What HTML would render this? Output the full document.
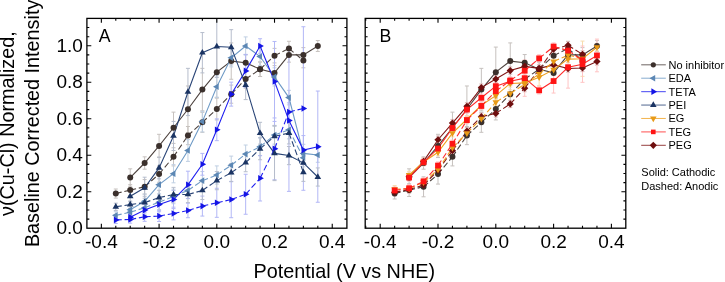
<!DOCTYPE html><html><head><meta charset="utf-8"><style>html,body{margin:0;padding:0;background:#fff;width:725px;height:282px;overflow:hidden}svg{display:block;will-change:transform}</style></head><body><svg width="725" height="282" viewBox="0 0 725 282" font-family="Liberation Sans, sans-serif" fill="#000"><defs><clipPath id="ca"><rect x="86.9" y="18.4" width="260" height="209.8"/></clipPath><clipPath id="cb"><rect x="365.2" y="18.4" width="260.6" height="209.8"/></clipPath></defs><rect width="725" height="282" fill="#fff"/><g clip-path="url(#ca)"><path d="M115.79 189.00V198.08M113.79 189.00h4M113.79 198.08h4" stroke="#c6c1be" stroke-width="1" fill="none"/><path d="M130.22 184.64V195.54M128.22 184.64h4M128.22 195.54h4" stroke="#c6c1be" stroke-width="1" fill="none"/><path d="M144.65 179.55V194.09M142.65 179.55h4M142.65 194.09h4" stroke="#c6c1be" stroke-width="1" fill="none"/><path d="M159.08 165.92V182.28M157.08 165.92h4M157.08 182.28h4" stroke="#c6c1be" stroke-width="1" fill="none"/><path d="M173.51 147.75V165.92M171.51 147.75h4M171.51 165.92h4" stroke="#c6c1be" stroke-width="1" fill="none"/><path d="M187.94 126.49V144.66M185.94 126.49h4M185.94 144.66h4" stroke="#c6c1be" stroke-width="1" fill="none"/><path d="M202.37 112.32V132.31M200.37 112.32h4M200.37 132.31h4" stroke="#c6c1be" stroke-width="1" fill="none"/><path d="M216.80 98.15V119.95M214.80 98.15h4M214.80 119.95h4" stroke="#c6c1be" stroke-width="1" fill="none"/><path d="M231.23 85.07V103.24M229.23 85.07h4M229.23 103.24h4" stroke="#c6c1be" stroke-width="1" fill="none"/><path d="M245.66 69.98V88.15M243.66 69.98h4M243.66 88.15h4" stroke="#c6c1be" stroke-width="1" fill="none"/><path d="M260.09 61.99V76.53M258.09 61.99h4M258.09 76.53h4" stroke="#c6c1be" stroke-width="1" fill="none"/><path d="M274.52 48.36V62.90M272.52 48.36h4M272.52 62.90h4" stroke="#c6c1be" stroke-width="1" fill="none"/><path d="M288.95 41.28V55.81M286.95 41.28h4M286.95 55.81h4" stroke="#c6c1be" stroke-width="1" fill="none"/><path d="M303.38 53.27V67.80M301.38 53.27h4M301.38 67.80h4" stroke="#c6c1be" stroke-width="1" fill="none"/><path d="M130.22 168.83V186.27M128.22 168.83h4M128.22 186.27h4" stroke="#c6c1be" stroke-width="1" fill="none"/><path d="M144.65 156.84V169.19M142.65 156.84h4M142.65 169.19h4" stroke="#c6c1be" stroke-width="1" fill="none"/><path d="M159.08 134.31V157.56M157.08 134.31h4M157.08 157.56h4" stroke="#c6c1be" stroke-width="1" fill="none"/><path d="M173.51 112.14V143.39M171.51 112.14h4M171.51 143.39h4" stroke="#c6c1be" stroke-width="1" fill="none"/><path d="M187.94 85.97V132.49M185.94 85.97h4M185.94 132.49h4" stroke="#c6c1be" stroke-width="1" fill="none"/><path d="M202.37 68.35V110.87M200.37 68.35h4M200.37 110.87h4" stroke="#c6c1be" stroke-width="1" fill="none"/><path d="M216.80 47.09V97.24M214.80 47.09h4M214.80 97.24h4" stroke="#c6c1be" stroke-width="1" fill="none"/><path d="M231.23 42.91V79.25M229.23 42.91h4M229.23 79.25h4" stroke="#c6c1be" stroke-width="1" fill="none"/><path d="M245.66 54.54V70.89M243.66 54.54h4M243.66 70.89h4" stroke="#c6c1be" stroke-width="1" fill="none"/><path d="M260.09 61.99V76.53M258.09 61.99h4M258.09 76.53h4" stroke="#c6c1be" stroke-width="1" fill="none"/><path d="M274.52 65.62V80.16M272.52 65.62h4M272.52 80.16h4" stroke="#c6c1be" stroke-width="1" fill="none"/><path d="M288.95 47.64V62.17M286.95 47.64h4M286.95 62.17h4" stroke="#c6c1be" stroke-width="1" fill="none"/><path d="M303.38 47.64V62.17M301.38 47.64h4M301.38 62.17h4" stroke="#c6c1be" stroke-width="1" fill="none"/><path d="M317.81 40.55V51.45M315.81 40.55h4M315.81 51.45h4" stroke="#c6c1be" stroke-width="1" fill="none"/><path d="M115.79 211.71V218.98M113.79 211.71h4M113.79 218.98h4" stroke="#bfcfe2" stroke-width="1" fill="none"/><path d="M130.22 208.62V215.89M128.22 208.62h4M128.22 215.89h4" stroke="#bfcfe2" stroke-width="1" fill="none"/><path d="M144.65 201.35V214.07M142.65 201.35h4M142.65 214.07h4" stroke="#bfcfe2" stroke-width="1" fill="none"/><path d="M159.08 194.99V209.53M157.08 194.99h4M157.08 209.53h4" stroke="#bfcfe2" stroke-width="1" fill="none"/><path d="M173.51 189.18V203.72M171.51 189.18h4M171.51 203.72h4" stroke="#bfcfe2" stroke-width="1" fill="none"/><path d="M187.94 182.28V198.63M185.94 182.28h4M185.94 198.63h4" stroke="#bfcfe2" stroke-width="1" fill="none"/><path d="M202.37 171.55V189.72M200.37 171.55h4M200.37 189.72h4" stroke="#bfcfe2" stroke-width="1" fill="none"/><path d="M216.80 165.92V184.09M214.80 165.92h4M214.80 184.09h4" stroke="#bfcfe2" stroke-width="1" fill="none"/><path d="M231.23 156.11V174.28M229.23 156.11h4M229.23 174.28h4" stroke="#bfcfe2" stroke-width="1" fill="none"/><path d="M245.66 145.03V163.20M243.66 145.03h4M243.66 163.20h4" stroke="#bfcfe2" stroke-width="1" fill="none"/><path d="M260.09 137.58V155.75M258.09 137.58h4M258.09 155.75h4" stroke="#bfcfe2" stroke-width="1" fill="none"/><path d="M274.52 125.95V144.12M272.52 125.95h4M272.52 144.12h4" stroke="#bfcfe2" stroke-width="1" fill="none"/><path d="M288.95 120.68V138.85M286.95 120.68h4M286.95 138.85h4" stroke="#bfcfe2" stroke-width="1" fill="none"/><path d="M303.38 148.66V166.83M301.38 148.66h4M301.38 166.83h4" stroke="#bfcfe2" stroke-width="1" fill="none"/><path d="M130.22 204.26V215.16M128.22 204.26h4M128.22 215.16h4" stroke="#bfcfe2" stroke-width="1" fill="none"/><path d="M144.65 194.09V208.62M142.65 194.09h4M142.65 208.62h4" stroke="#bfcfe2" stroke-width="1" fill="none"/><path d="M159.08 175.55V193.72M157.08 175.55h4M157.08 193.72h4" stroke="#bfcfe2" stroke-width="1" fill="none"/><path d="M173.51 164.65V182.82M171.51 164.65h4M171.51 182.82h4" stroke="#bfcfe2" stroke-width="1" fill="none"/><path d="M187.94 139.58V161.38M185.94 139.58h4M185.94 161.38h4" stroke="#bfcfe2" stroke-width="1" fill="none"/><path d="M202.37 111.23V131.94M200.37 111.23h4M200.37 131.94h4" stroke="#bfcfe2" stroke-width="1" fill="none"/><path d="M216.80 75.80V97.60M214.80 75.80h4M214.80 97.60h4" stroke="#bfcfe2" stroke-width="1" fill="none"/><path d="M231.23 48.73V66.90M229.23 48.73h4M229.23 66.90h4" stroke="#bfcfe2" stroke-width="1" fill="none"/><path d="M245.66 36.91V55.09M243.66 36.91h4M243.66 55.09h4" stroke="#bfcfe2" stroke-width="1" fill="none"/><path d="M260.09 47.45V65.62M258.09 47.45h4M258.09 65.62h4" stroke="#bfcfe2" stroke-width="1" fill="none"/><path d="M274.52 67.80V85.97M272.52 67.80h4M272.52 85.97h4" stroke="#bfcfe2" stroke-width="1" fill="none"/><path d="M288.95 90.33V104.87M286.95 90.33h4M286.95 104.87h4" stroke="#bfcfe2" stroke-width="1" fill="none"/><path d="M303.38 144.30V162.47M301.38 144.30h4M301.38 162.47h4" stroke="#bfcfe2" stroke-width="1" fill="none"/><path d="M317.81 147.75V162.29M315.81 147.75h4M315.81 162.29h4" stroke="#bfcfe2" stroke-width="1" fill="none"/><path d="M115.79 216.25V223.52M113.79 216.25h4M113.79 223.52h4" stroke="#b2b7f6" stroke-width="1" fill="none"/><path d="M130.22 215.89V223.16M128.22 215.89h4M128.22 223.16h4" stroke="#b2b7f6" stroke-width="1" fill="none"/><path d="M144.65 212.26V221.34M142.65 212.26h4M142.65 221.34h4" stroke="#b2b7f6" stroke-width="1" fill="none"/><path d="M159.08 210.62V221.52M157.08 210.62h4M157.08 221.52h4" stroke="#b2b7f6" stroke-width="1" fill="none"/><path d="M173.51 207.17V219.89M171.51 207.17h4M171.51 219.89h4" stroke="#b2b7f6" stroke-width="1" fill="none"/><path d="M187.94 203.17V217.71M185.94 203.17h4M185.94 217.71h4" stroke="#b2b7f6" stroke-width="1" fill="none"/><path d="M202.37 196.08V216.07M200.37 196.08h4M200.37 216.07h4" stroke="#b2b7f6" stroke-width="1" fill="none"/><path d="M216.80 188.27V217.34M214.80 188.27h4M214.80 217.34h4" stroke="#b2b7f6" stroke-width="1" fill="none"/><path d="M231.23 181.37V217.71M229.23 181.37h4M229.23 217.71h4" stroke="#b2b7f6" stroke-width="1" fill="none"/><path d="M245.66 174.28V214.25M243.66 174.28h4M243.66 214.25h4" stroke="#b2b7f6" stroke-width="1" fill="none"/><path d="M260.09 155.57V200.99M258.09 155.57h4M258.09 200.99h4" stroke="#b2b7f6" stroke-width="1" fill="none"/><path d="M274.52 117.95V179.73M272.52 117.95h4M272.52 179.73h4" stroke="#b2b7f6" stroke-width="1" fill="none"/><path d="M288.95 102.87V121.04M286.95 102.87h4M286.95 121.04h4" stroke="#b2b7f6" stroke-width="1" fill="none"/><path d="M303.38 26.74V190.27M301.38 26.74h4M301.38 190.27h4" stroke="#b2b7f6" stroke-width="1" fill="none"/><path d="M130.22 213.53V220.80M128.22 213.53h4M128.22 220.80h4" stroke="#b2b7f6" stroke-width="1" fill="none"/><path d="M144.65 204.62V215.53M142.65 204.62h4M142.65 215.53h4" stroke="#b2b7f6" stroke-width="1" fill="none"/><path d="M159.08 197.17V211.71M157.08 197.17h4M157.08 211.71h4" stroke="#b2b7f6" stroke-width="1" fill="none"/><path d="M173.51 190.45V208.62M171.51 190.45h4M171.51 208.62h4" stroke="#b2b7f6" stroke-width="1" fill="none"/><path d="M187.94 171.19V198.45M185.94 171.19h4M185.94 198.45h4" stroke="#b2b7f6" stroke-width="1" fill="none"/><path d="M202.37 153.38V175.19M200.37 153.38h4M200.37 175.19h4" stroke="#b2b7f6" stroke-width="1" fill="none"/><path d="M216.80 118.86V140.67M214.80 118.86h4M214.80 140.67h4" stroke="#b2b7f6" stroke-width="1" fill="none"/><path d="M231.23 82.16V106.14M229.23 82.16h4M229.23 106.14h4" stroke="#b2b7f6" stroke-width="1" fill="none"/><path d="M245.66 54.36V87.43M243.66 54.36h4M243.66 87.43h4" stroke="#b2b7f6" stroke-width="1" fill="none"/><path d="M260.09 38.73V53.27M258.09 38.73h4M258.09 53.27h4" stroke="#b2b7f6" stroke-width="1" fill="none"/><path d="M274.52 41.46V121.41M272.52 41.46h4M272.52 121.41h4" stroke="#b2b7f6" stroke-width="1" fill="none"/><path d="M288.95 49.63V191.36M286.95 49.63h4M286.95 191.36h4" stroke="#b2b7f6" stroke-width="1" fill="none"/><path d="M303.38 135.58V164.65M301.38 135.58h4M301.38 164.65h4" stroke="#b2b7f6" stroke-width="1" fill="none"/><path d="M317.81 91.06V202.26M315.81 91.06h4M315.81 202.26h4" stroke="#b2b7f6" stroke-width="1" fill="none"/><path d="M115.79 203.17V210.44M113.79 203.17h4M113.79 210.44h4" stroke="#b6bdcc" stroke-width="1" fill="none"/><path d="M130.22 200.99V208.26M128.22 200.99h4M128.22 208.26h4" stroke="#b6bdcc" stroke-width="1" fill="none"/><path d="M144.65 196.27V208.98M142.65 196.27h4M142.65 208.98h4" stroke="#b6bdcc" stroke-width="1" fill="none"/><path d="M159.08 190.27V204.81M157.08 190.27h4M157.08 204.81h4" stroke="#b6bdcc" stroke-width="1" fill="none"/><path d="M173.51 187.36V201.90M171.51 187.36h4M171.51 201.90h4" stroke="#b6bdcc" stroke-width="1" fill="none"/><path d="M187.94 186.27V202.63M185.94 186.27h4M185.94 202.63h4" stroke="#b6bdcc" stroke-width="1" fill="none"/><path d="M202.37 181.37V199.54M200.37 181.37h4M200.37 199.54h4" stroke="#b6bdcc" stroke-width="1" fill="none"/><path d="M216.80 171.55V189.72M214.80 171.55h4M214.80 189.72h4" stroke="#b6bdcc" stroke-width="1" fill="none"/><path d="M231.23 163.56V181.73M229.23 163.56h4M229.23 181.73h4" stroke="#b6bdcc" stroke-width="1" fill="none"/><path d="M245.66 153.57V171.74M243.66 153.57h4M243.66 171.74h4" stroke="#b6bdcc" stroke-width="1" fill="none"/><path d="M260.09 137.94V159.74M258.09 137.94h4M258.09 159.74h4" stroke="#b6bdcc" stroke-width="1" fill="none"/><path d="M274.52 125.40V147.21M272.52 125.40h4M272.52 147.21h4" stroke="#b6bdcc" stroke-width="1" fill="none"/><path d="M288.95 122.13V143.94M286.95 122.13h4M286.95 143.94h4" stroke="#b6bdcc" stroke-width="1" fill="none"/><path d="M303.38 163.20V181.37M301.38 163.20h4M301.38 181.37h4" stroke="#b6bdcc" stroke-width="1" fill="none"/><path d="M130.22 190.81V201.72M128.22 190.81h4M128.22 201.72h4" stroke="#b6bdcc" stroke-width="1" fill="none"/><path d="M144.65 177.19V198.26M142.65 177.19h4M142.65 198.26h4" stroke="#b6bdcc" stroke-width="1" fill="none"/><path d="M159.08 157.02V178.82M157.08 157.02h4M157.08 178.82h4" stroke="#b6bdcc" stroke-width="1" fill="none"/><path d="M173.51 121.41V150.48M171.51 121.41h4M171.51 150.48h4" stroke="#b6bdcc" stroke-width="1" fill="none"/><path d="M187.94 68.35V115.59M185.94 68.35h4M185.94 115.59h4" stroke="#b6bdcc" stroke-width="1" fill="none"/><path d="M202.37 32.55V72.89M200.37 32.55h4M200.37 72.89h4" stroke="#b6bdcc" stroke-width="1" fill="none"/><path d="M216.80 15.66V77.43M214.80 15.66h4M214.80 77.43h4" stroke="#b6bdcc" stroke-width="1" fill="none"/><path d="M231.23 29.65V64.90M229.23 29.65h4M229.23 64.90h4" stroke="#b6bdcc" stroke-width="1" fill="none"/><path d="M245.66 70.53V99.60M243.66 70.53h4M243.66 99.60h4" stroke="#b6bdcc" stroke-width="1" fill="none"/><path d="M260.09 122.31V144.12M258.09 122.31h4M258.09 144.12h4" stroke="#b6bdcc" stroke-width="1" fill="none"/><path d="M274.52 126.13V180.64M272.52 126.13h4M272.52 180.64h4" stroke="#b6bdcc" stroke-width="1" fill="none"/><path d="M288.95 146.48V164.65M286.95 146.48h4M286.95 164.65h4" stroke="#b6bdcc" stroke-width="1" fill="none"/><path d="M303.38 153.75V171.92M301.38 153.75h4M301.38 171.92h4" stroke="#b6bdcc" stroke-width="1" fill="none"/><path d="M317.81 167.92V186.09M315.81 167.92h4M315.81 186.09h4" stroke="#b6bdcc" stroke-width="1" fill="none"/><path d="M115.79 193.54L130.22 190.09M130.22 190.09L144.65 186.82M144.65 186.82L159.08 174.10M159.08 174.10L173.51 156.84M173.51 156.84L187.94 135.58M187.94 135.58L202.37 122.31M202.37 122.31L216.80 109.05M216.80 109.05L231.23 94.15M231.23 94.15L245.66 79.07M245.66 79.07L260.09 69.26M260.09 69.26L274.52 55.63M274.52 55.63L288.95 48.54M288.95 48.54L303.38 60.54" stroke="#4d423e" stroke-width="1.1" fill="none" stroke-dasharray="6 2.8"/><path d="M130.22 177.55 L144.65 163.01 L159.08 145.94 L173.51 127.76 L187.94 109.23 L202.37 89.61 L216.80 72.16 L231.23 61.08 L245.66 62.72 L260.09 69.26 L274.52 72.89 L288.95 54.90 L303.38 54.90 L317.81 46.00" stroke="#4d423e" stroke-width="1.1" fill="none"/><path d="M115.79 215.34L130.22 212.26M130.22 212.26L144.65 207.71M144.65 207.71L159.08 202.26M159.08 202.26L173.51 196.45M173.51 196.45L187.94 190.45M187.94 190.45L202.37 180.64M202.37 180.64L216.80 175.01M216.80 175.01L231.23 165.20M231.23 165.20L245.66 154.11M245.66 154.11L260.09 146.66M260.09 146.66L274.52 135.03M274.52 135.03L288.95 129.76M288.95 129.76L303.38 157.75" stroke="#6e9ac6" stroke-width="1.1" fill="none" stroke-dasharray="6 2.8"/><path d="M130.22 209.71 L144.65 201.35 L159.08 184.64 L173.51 173.74 L187.94 150.48 L202.37 121.59 L216.80 86.70 L231.23 57.81 L245.66 46.00 L260.09 56.54 L274.52 76.89 L288.95 97.60 L303.38 153.38 L317.81 155.02" stroke="#6e9ac6" stroke-width="1.1" fill="none"/><path d="M115.79 219.89L130.22 219.52M130.22 219.52L144.65 216.80M144.65 216.80L159.08 216.07M159.08 216.07L173.51 213.53M173.51 213.53L187.94 210.44M187.94 210.44L202.37 206.08M202.37 206.08L216.80 202.81M216.80 202.81L231.23 199.54M231.23 199.54L245.66 194.27M245.66 194.27L260.09 178.28M260.09 178.28L274.52 148.84M274.52 148.84L288.95 111.96M288.95 111.96L303.38 108.50" stroke="#1f1ff0" stroke-width="1.1" fill="none" stroke-dasharray="6 2.8"/><path d="M130.22 217.16 L144.65 210.08 L159.08 204.44 L173.51 199.54 L187.94 184.82 L202.37 164.29 L216.80 129.76 L231.23 94.15 L245.66 70.89 L260.09 46.00 L274.52 81.43 L288.95 120.50 L303.38 150.11 L317.81 146.66" stroke="#1f1ff0" stroke-width="1.1" fill="none"/><path d="M115.79 206.80L130.22 204.62M130.22 204.62L144.65 202.63M144.65 202.63L159.08 197.54M159.08 197.54L173.51 194.63M173.51 194.63L187.94 194.45M187.94 194.45L202.37 190.45M202.37 190.45L216.80 180.64M216.80 180.64L231.23 172.64M231.23 172.64L245.66 162.65M245.66 162.65L260.09 148.84M260.09 148.84L274.52 136.30M274.52 136.30L288.95 133.03M288.95 133.03L303.38 172.28" stroke="#2a4577" stroke-width="1.1" fill="none" stroke-dasharray="6 2.8"/><path d="M130.22 196.27 L144.65 187.73 L159.08 167.92 L173.51 135.94 L187.94 91.97 L202.37 52.72 L216.80 46.55 L231.23 47.27 L245.66 85.07 L260.09 133.22 L274.52 153.38 L288.95 155.57 L303.38 162.83 L317.81 177.01" stroke="#2a4577" stroke-width="1.1" fill="none"/><circle cx="115.79" cy="193.54" r="3.0" fill="#3b302c"/><circle cx="130.22" cy="190.09" r="3.0" fill="#3b302c"/><circle cx="144.65" cy="186.82" r="3.0" fill="#3b302c"/><circle cx="159.08" cy="174.10" r="3.0" fill="#3b302c"/><circle cx="173.51" cy="156.84" r="3.0" fill="#3b302c"/><circle cx="187.94" cy="135.58" r="3.0" fill="#3b302c"/><circle cx="202.37" cy="122.31" r="3.0" fill="#3b302c"/><circle cx="216.80" cy="109.05" r="3.0" fill="#3b302c"/><circle cx="231.23" cy="94.15" r="3.0" fill="#3b302c"/><circle cx="245.66" cy="79.07" r="3.0" fill="#3b302c"/><circle cx="260.09" cy="69.26" r="3.0" fill="#3b302c"/><circle cx="274.52" cy="55.63" r="3.0" fill="#3b302c"/><circle cx="288.95" cy="48.54" r="3.0" fill="#3b302c"/><circle cx="303.38" cy="60.54" r="3.0" fill="#3b302c"/><circle cx="130.22" cy="177.55" r="3.0" fill="#3b302c"/><circle cx="144.65" cy="163.01" r="3.0" fill="#3b302c"/><circle cx="159.08" cy="145.94" r="3.0" fill="#3b302c"/><circle cx="173.51" cy="127.76" r="3.0" fill="#3b302c"/><circle cx="187.94" cy="109.23" r="3.0" fill="#3b302c"/><circle cx="202.37" cy="89.61" r="3.0" fill="#3b302c"/><circle cx="216.80" cy="72.16" r="3.0" fill="#3b302c"/><circle cx="231.23" cy="61.08" r="3.0" fill="#3b302c"/><circle cx="245.66" cy="62.72" r="3.0" fill="#3b302c"/><circle cx="260.09" cy="69.26" r="3.0" fill="#3b302c"/><circle cx="274.52" cy="72.89" r="3.0" fill="#3b302c"/><circle cx="288.95" cy="54.90" r="3.0" fill="#3b302c"/><circle cx="303.38" cy="54.90" r="3.0" fill="#3b302c"/><circle cx="317.81" cy="46.00" r="3.0" fill="#3b302c"/><path d="M111.99 215.34L117.69 212.04L117.69 218.64Z" fill="#5c87b4"/><path d="M126.42 212.26L132.12 208.96L132.12 215.56Z" fill="#5c87b4"/><path d="M140.85 207.71L146.55 204.41L146.55 211.01Z" fill="#5c87b4"/><path d="M155.28 202.26L160.98 198.96L160.98 205.56Z" fill="#5c87b4"/><path d="M169.71 196.45L175.41 193.15L175.41 199.75Z" fill="#5c87b4"/><path d="M184.14 190.45L189.84 187.15L189.84 193.75Z" fill="#5c87b4"/><path d="M198.57 180.64L204.27 177.34L204.27 183.94Z" fill="#5c87b4"/><path d="M213.00 175.01L218.70 171.71L218.70 178.31Z" fill="#5c87b4"/><path d="M227.43 165.20L233.13 161.90L233.13 168.50Z" fill="#5c87b4"/><path d="M241.86 154.11L247.56 150.81L247.56 157.41Z" fill="#5c87b4"/><path d="M256.29 146.66L261.99 143.36L261.99 149.96Z" fill="#5c87b4"/><path d="M270.72 135.03L276.42 131.73L276.42 138.33Z" fill="#5c87b4"/><path d="M285.15 129.76L290.85 126.46L290.85 133.06Z" fill="#5c87b4"/><path d="M299.58 157.75L305.28 154.45L305.28 161.05Z" fill="#5c87b4"/><path d="M126.42 209.71L132.12 206.41L132.12 213.01Z" fill="#5c87b4"/><path d="M140.85 201.35L146.55 198.05L146.55 204.65Z" fill="#5c87b4"/><path d="M155.28 184.64L160.98 181.34L160.98 187.94Z" fill="#5c87b4"/><path d="M169.71 173.74L175.41 170.44L175.41 177.04Z" fill="#5c87b4"/><path d="M184.14 150.48L189.84 147.18L189.84 153.78Z" fill="#5c87b4"/><path d="M198.57 121.59L204.27 118.29L204.27 124.89Z" fill="#5c87b4"/><path d="M213.00 86.70L218.70 83.40L218.70 90.00Z" fill="#5c87b4"/><path d="M227.43 57.81L233.13 54.51L233.13 61.11Z" fill="#5c87b4"/><path d="M241.86 46.00L247.56 42.70L247.56 49.30Z" fill="#5c87b4"/><path d="M256.29 56.54L261.99 53.24L261.99 59.84Z" fill="#5c87b4"/><path d="M270.72 76.89L276.42 73.59L276.42 80.19Z" fill="#5c87b4"/><path d="M285.15 97.60L290.85 94.30L290.85 100.90Z" fill="#5c87b4"/><path d="M299.58 153.38L305.28 150.08L305.28 156.68Z" fill="#5c87b4"/><path d="M314.01 155.02L319.71 151.72L319.71 158.32Z" fill="#5c87b4"/><path d="M119.59 219.89L113.89 216.59L113.89 223.19Z" fill="#1414e6"/><path d="M134.02 219.52L128.32 216.22L128.32 222.82Z" fill="#1414e6"/><path d="M148.45 216.80L142.75 213.50L142.75 220.10Z" fill="#1414e6"/><path d="M162.88 216.07L157.18 212.77L157.18 219.37Z" fill="#1414e6"/><path d="M177.31 213.53L171.61 210.23L171.61 216.83Z" fill="#1414e6"/><path d="M191.74 210.44L186.04 207.14L186.04 213.74Z" fill="#1414e6"/><path d="M206.17 206.08L200.47 202.78L200.47 209.38Z" fill="#1414e6"/><path d="M220.60 202.81L214.90 199.51L214.90 206.11Z" fill="#1414e6"/><path d="M235.03 199.54L229.33 196.24L229.33 202.84Z" fill="#1414e6"/><path d="M249.46 194.27L243.76 190.97L243.76 197.57Z" fill="#1414e6"/><path d="M263.89 178.28L258.19 174.98L258.19 181.58Z" fill="#1414e6"/><path d="M278.32 148.84L272.62 145.54L272.62 152.14Z" fill="#1414e6"/><path d="M292.75 111.96L287.05 108.66L287.05 115.26Z" fill="#1414e6"/><path d="M307.18 108.50L301.48 105.20L301.48 111.80Z" fill="#1414e6"/><path d="M134.02 217.16L128.32 213.86L128.32 220.46Z" fill="#1414e6"/><path d="M148.45 210.08L142.75 206.78L142.75 213.38Z" fill="#1414e6"/><path d="M162.88 204.44L157.18 201.14L157.18 207.74Z" fill="#1414e6"/><path d="M177.31 199.54L171.61 196.24L171.61 202.84Z" fill="#1414e6"/><path d="M191.74 184.82L186.04 181.52L186.04 188.12Z" fill="#1414e6"/><path d="M206.17 164.29L200.47 160.99L200.47 167.59Z" fill="#1414e6"/><path d="M220.60 129.76L214.90 126.46L214.90 133.06Z" fill="#1414e6"/><path d="M235.03 94.15L229.33 90.85L229.33 97.45Z" fill="#1414e6"/><path d="M249.46 70.89L243.76 67.59L243.76 74.19Z" fill="#1414e6"/><path d="M263.89 46.00L258.19 42.70L258.19 49.30Z" fill="#1414e6"/><path d="M278.32 81.43L272.62 78.13L272.62 84.73Z" fill="#1414e6"/><path d="M292.75 120.50L287.05 117.20L287.05 123.80Z" fill="#1414e6"/><path d="M307.18 150.11L301.48 146.81L301.48 153.41Z" fill="#1414e6"/><path d="M321.61 146.66L315.91 143.36L315.91 149.96Z" fill="#1414e6"/><path d="M115.79 203.00L119.09 208.70L112.49 208.70Z" fill="#1b3463"/><path d="M130.22 200.82L133.52 206.52L126.92 206.52Z" fill="#1b3463"/><path d="M144.65 198.83L147.95 204.53L141.35 204.53Z" fill="#1b3463"/><path d="M159.08 193.74L162.38 199.44L155.78 199.44Z" fill="#1b3463"/><path d="M173.51 190.83L176.81 196.53L170.21 196.53Z" fill="#1b3463"/><path d="M187.94 190.65L191.24 196.35L184.64 196.35Z" fill="#1b3463"/><path d="M202.37 186.65L205.67 192.35L199.07 192.35Z" fill="#1b3463"/><path d="M216.80 176.84L220.10 182.54L213.50 182.54Z" fill="#1b3463"/><path d="M231.23 168.84L234.53 174.54L227.93 174.54Z" fill="#1b3463"/><path d="M245.66 158.85L248.96 164.55L242.36 164.55Z" fill="#1b3463"/><path d="M260.09 145.04L263.39 150.74L256.79 150.74Z" fill="#1b3463"/><path d="M274.52 132.50L277.82 138.20L271.22 138.20Z" fill="#1b3463"/><path d="M288.95 129.23L292.25 134.93L285.65 134.93Z" fill="#1b3463"/><path d="M303.38 168.48L306.68 174.18L300.08 174.18Z" fill="#1b3463"/><path d="M130.22 192.47L133.52 198.17L126.92 198.17Z" fill="#1b3463"/><path d="M144.65 183.93L147.95 189.63L141.35 189.63Z" fill="#1b3463"/><path d="M159.08 164.12L162.38 169.82L155.78 169.82Z" fill="#1b3463"/><path d="M173.51 132.14L176.81 137.84L170.21 137.84Z" fill="#1b3463"/><path d="M187.94 88.17L191.24 93.87L184.64 93.87Z" fill="#1b3463"/><path d="M202.37 48.92L205.67 54.62L199.07 54.62Z" fill="#1b3463"/><path d="M216.80 42.75L220.10 48.45L213.50 48.45Z" fill="#1b3463"/><path d="M231.23 43.47L234.53 49.17L227.93 49.17Z" fill="#1b3463"/><path d="M245.66 81.27L248.96 86.97L242.36 86.97Z" fill="#1b3463"/><path d="M260.09 129.42L263.39 135.12L256.79 135.12Z" fill="#1b3463"/><path d="M274.52 149.58L277.82 155.28L271.22 155.28Z" fill="#1b3463"/><path d="M288.95 151.77L292.25 157.47L285.65 157.47Z" fill="#1b3463"/><path d="M303.38 159.03L306.68 164.73L300.08 164.73Z" fill="#1b3463"/><path d="M317.81 173.21L321.11 178.91L314.51 178.91Z" fill="#1b3463"/></g><g clip-path="url(#cb)"><path d="M394.65 188.09V198.99M392.65 188.09h4M392.65 198.99h4" stroke="#c6c1be" stroke-width="1" fill="none"/><path d="M409.10 183.73V196.45M407.10 183.73h4M407.10 196.45h4" stroke="#c6c1be" stroke-width="1" fill="none"/><path d="M423.55 176.82V196.81M421.55 176.82h4M421.55 196.81h4" stroke="#c6c1be" stroke-width="1" fill="none"/><path d="M438.00 164.10V184.09M436.00 164.10h4M436.00 184.09h4" stroke="#c6c1be" stroke-width="1" fill="none"/><path d="M452.45 147.75V165.92M450.45 147.75h4M450.45 165.92h4" stroke="#c6c1be" stroke-width="1" fill="none"/><path d="M466.90 126.49V144.66M464.90 126.49h4M464.90 144.66h4" stroke="#c6c1be" stroke-width="1" fill="none"/><path d="M481.35 112.32V132.31M479.35 112.32h4M479.35 132.31h4" stroke="#c6c1be" stroke-width="1" fill="none"/><path d="M495.80 98.15V119.95M493.80 98.15h4M493.80 119.95h4" stroke="#c6c1be" stroke-width="1" fill="none"/><path d="M510.25 85.07V103.24M508.25 85.07h4M508.25 103.24h4" stroke="#c6c1be" stroke-width="1" fill="none"/><path d="M524.70 69.98V88.15M522.70 69.98h4M522.70 88.15h4" stroke="#c6c1be" stroke-width="1" fill="none"/><path d="M539.15 61.99V76.53M537.15 61.99h4M537.15 76.53h4" stroke="#c6c1be" stroke-width="1" fill="none"/><path d="M553.60 48.36V62.90M551.60 48.36h4M551.60 62.90h4" stroke="#c6c1be" stroke-width="1" fill="none"/><path d="M568.05 41.28V55.81M566.05 41.28h4M566.05 55.81h4" stroke="#c6c1be" stroke-width="1" fill="none"/><path d="M582.50 53.27V67.80M580.50 53.27h4M580.50 67.80h4" stroke="#c6c1be" stroke-width="1" fill="none"/><path d="M409.10 168.83V186.27M407.10 168.83h4M407.10 186.27h4" stroke="#c6c1be" stroke-width="1" fill="none"/><path d="M423.55 156.84V169.19M421.55 156.84h4M421.55 169.19h4" stroke="#c6c1be" stroke-width="1" fill="none"/><path d="M438.00 134.31V157.56M436.00 134.31h4M436.00 157.56h4" stroke="#c6c1be" stroke-width="1" fill="none"/><path d="M452.45 112.14V143.39M450.45 112.14h4M450.45 143.39h4" stroke="#c6c1be" stroke-width="1" fill="none"/><path d="M466.90 85.97V132.49M464.90 85.97h4M464.90 132.49h4" stroke="#c6c1be" stroke-width="1" fill="none"/><path d="M481.35 68.35V110.87M479.35 68.35h4M479.35 110.87h4" stroke="#c6c1be" stroke-width="1" fill="none"/><path d="M495.80 47.09V97.24M493.80 47.09h4M493.80 97.24h4" stroke="#c6c1be" stroke-width="1" fill="none"/><path d="M510.25 42.91V79.25M508.25 42.91h4M508.25 79.25h4" stroke="#c6c1be" stroke-width="1" fill="none"/><path d="M524.70 54.54V70.89M522.70 54.54h4M522.70 70.89h4" stroke="#c6c1be" stroke-width="1" fill="none"/><path d="M539.15 61.99V76.53M537.15 61.99h4M537.15 76.53h4" stroke="#c6c1be" stroke-width="1" fill="none"/><path d="M553.60 65.62V80.16M551.60 65.62h4M551.60 80.16h4" stroke="#c6c1be" stroke-width="1" fill="none"/><path d="M568.05 47.64V62.17M566.05 47.64h4M566.05 62.17h4" stroke="#c6c1be" stroke-width="1" fill="none"/><path d="M582.50 47.64V62.17M580.50 47.64h4M580.50 62.17h4" stroke="#c6c1be" stroke-width="1" fill="none"/><path d="M596.95 40.55V51.45M594.95 40.55h4M594.95 51.45h4" stroke="#c6c1be" stroke-width="1" fill="none"/><path d="M394.65 188.63V195.90M392.65 188.63h4M392.65 195.90h4" stroke="#dcb6b6" stroke-width="1" fill="none"/><path d="M409.10 185.91V193.18M407.10 185.91h4M407.10 193.18h4" stroke="#dcb6b6" stroke-width="1" fill="none"/><path d="M423.55 181.37V188.63M421.55 181.37h4M421.55 188.63h4" stroke="#dcb6b6" stroke-width="1" fill="none"/><path d="M438.00 166.83V174.10M436.00 166.83h4M436.00 174.10h4" stroke="#dcb6b6" stroke-width="1" fill="none"/><path d="M452.45 147.03V154.29M450.45 147.03h4M450.45 154.29h4" stroke="#dcb6b6" stroke-width="1" fill="none"/><path d="M466.90 127.58V134.85M464.90 127.58h4M464.90 134.85h4" stroke="#dcb6b6" stroke-width="1" fill="none"/><path d="M481.35 113.05V120.32M479.35 113.05h4M479.35 120.32h4" stroke="#dcb6b6" stroke-width="1" fill="none"/><path d="M495.80 109.78V117.04M493.80 109.78h4M493.80 117.04h4" stroke="#dcb6b6" stroke-width="1" fill="none"/><path d="M510.25 100.33V107.60M508.25 100.33h4M508.25 107.60h4" stroke="#dcb6b6" stroke-width="1" fill="none"/><path d="M524.70 84.52V91.79M522.70 84.52h4M522.70 91.79h4" stroke="#dcb6b6" stroke-width="1" fill="none"/><path d="M539.15 65.99V73.26M537.15 65.99h4M537.15 73.26h4" stroke="#dcb6b6" stroke-width="1" fill="none"/><path d="M553.60 45.64V52.90M551.60 45.64h4M551.60 52.90h4" stroke="#dcb6b6" stroke-width="1" fill="none"/><path d="M568.05 41.64V48.91M566.05 41.64h4M566.05 48.91h4" stroke="#dcb6b6" stroke-width="1" fill="none"/><path d="M582.50 50.72V57.99M580.50 50.72h4M580.50 57.99h4" stroke="#dcb6b6" stroke-width="1" fill="none"/><path d="M409.10 173.19V180.46M407.10 173.19h4M407.10 180.46h4" stroke="#dcb6b6" stroke-width="1" fill="none"/><path d="M423.55 157.75V165.01M421.55 157.75h4M421.55 165.01h4" stroke="#dcb6b6" stroke-width="1" fill="none"/><path d="M438.00 136.12V143.39M436.00 136.12h4M436.00 143.39h4" stroke="#dcb6b6" stroke-width="1" fill="none"/><path d="M452.45 119.41V126.67M450.45 119.41h4M450.45 126.67h4" stroke="#dcb6b6" stroke-width="1" fill="none"/><path d="M466.90 102.69V109.96M464.90 102.69h4M464.90 109.96h4" stroke="#dcb6b6" stroke-width="1" fill="none"/><path d="M481.35 83.98V91.24M479.35 83.98h4M479.35 91.24h4" stroke="#dcb6b6" stroke-width="1" fill="none"/><path d="M495.80 75.44V82.70M493.80 75.44h4M493.80 82.70h4" stroke="#dcb6b6" stroke-width="1" fill="none"/><path d="M510.25 66.90V74.16M508.25 66.90h4M508.25 74.16h4" stroke="#dcb6b6" stroke-width="1" fill="none"/><path d="M524.70 62.72V69.98M522.70 62.72h4M522.70 69.98h4" stroke="#dcb6b6" stroke-width="1" fill="none"/><path d="M539.15 64.72V71.98M537.15 64.72h4M537.15 71.98h4" stroke="#dcb6b6" stroke-width="1" fill="none"/><path d="M553.60 61.26V68.53M551.60 61.26h4M551.60 68.53h4" stroke="#dcb6b6" stroke-width="1" fill="none"/><path d="M568.05 64.90V72.16M566.05 64.90h4M566.05 72.16h4" stroke="#dcb6b6" stroke-width="1" fill="none"/><path d="M582.50 64.35V71.62M580.50 64.35h4M580.50 71.62h4" stroke="#dcb6b6" stroke-width="1" fill="none"/><path d="M596.95 57.81V65.08M594.95 57.81h4M594.95 65.08h4" stroke="#dcb6b6" stroke-width="1" fill="none"/><path d="M394.65 185.55V192.81M392.65 185.55h4M392.65 192.81h4" stroke="#f7dcae" stroke-width="1" fill="none"/><path d="M409.10 185.00V192.27M407.10 185.00h4M407.10 192.27h4" stroke="#f7dcae" stroke-width="1" fill="none"/><path d="M423.55 178.64V185.91M421.55 178.64h4M421.55 185.91h4" stroke="#f7dcae" stroke-width="1" fill="none"/><path d="M438.00 165.92V173.19M436.00 165.92h4M436.00 173.19h4" stroke="#f7dcae" stroke-width="1" fill="none"/><path d="M452.45 144.12V151.39M450.45 144.12h4M450.45 151.39h4" stroke="#f7dcae" stroke-width="1" fill="none"/><path d="M466.90 129.58V136.85M464.90 129.58h4M464.90 136.85h4" stroke="#f7dcae" stroke-width="1" fill="none"/><path d="M481.35 115.05V122.31M479.35 115.05h4M479.35 122.31h4" stroke="#f7dcae" stroke-width="1" fill="none"/><path d="M495.80 98.51V105.78M493.80 98.51h4M493.80 105.78h4" stroke="#f7dcae" stroke-width="1" fill="none"/><path d="M510.25 89.79V97.06M508.25 89.79h4M508.25 97.06h4" stroke="#f7dcae" stroke-width="1" fill="none"/><path d="M524.70 80.52V87.79M522.70 80.52h4M522.70 87.79h4" stroke="#f7dcae" stroke-width="1" fill="none"/><path d="M539.15 70.35V77.62M537.15 70.35h4M537.15 77.62h4" stroke="#f7dcae" stroke-width="1" fill="none"/><path d="M553.60 57.81V65.08M551.60 57.81h4M551.60 65.08h4" stroke="#f7dcae" stroke-width="1" fill="none"/><path d="M568.05 51.45V58.72M566.05 51.45h4M566.05 58.72h4" stroke="#f7dcae" stroke-width="1" fill="none"/><path d="M582.50 55.08V62.35M580.50 55.08h4M580.50 62.35h4" stroke="#f7dcae" stroke-width="1" fill="none"/><path d="M409.10 171.37V178.64M407.10 171.37h4M407.10 178.64h4" stroke="#f7dcae" stroke-width="1" fill="none"/><path d="M423.55 158.29V165.56M421.55 158.29h4M421.55 165.56h4" stroke="#f7dcae" stroke-width="1" fill="none"/><path d="M438.00 148.66V155.93M436.00 148.66h4M436.00 155.93h4" stroke="#f7dcae" stroke-width="1" fill="none"/><path d="M452.45 129.58V136.85M450.45 129.58h4M450.45 136.85h4" stroke="#f7dcae" stroke-width="1" fill="none"/><path d="M466.90 115.59V122.86M464.90 115.59h4M464.90 122.86h4" stroke="#f7dcae" stroke-width="1" fill="none"/><path d="M481.35 101.60V108.87M479.35 101.60h4M479.35 108.87h4" stroke="#f7dcae" stroke-width="1" fill="none"/><path d="M495.80 91.97V99.24M493.80 91.97h4M493.80 99.24h4" stroke="#f7dcae" stroke-width="1" fill="none"/><path d="M510.25 79.80V87.06M508.25 79.80h4M508.25 87.06h4" stroke="#f7dcae" stroke-width="1" fill="none"/><path d="M524.70 79.25V86.52M522.70 79.25h4M522.70 86.52h4" stroke="#f7dcae" stroke-width="1" fill="none"/><path d="M539.15 69.08V85.43M537.15 69.08h4M537.15 85.43h4" stroke="#f7dcae" stroke-width="1" fill="none"/><path d="M553.60 65.99V73.26M551.60 65.99h4M551.60 73.26h4" stroke="#f7dcae" stroke-width="1" fill="none"/><path d="M568.05 55.45V62.72M566.05 55.45h4M566.05 62.72h4" stroke="#f7dcae" stroke-width="1" fill="none"/><path d="M582.50 41.09V76.34M580.50 41.09h4M580.50 76.34h4" stroke="#f7dcae" stroke-width="1" fill="none"/><path d="M596.95 43.64V50.91M594.95 43.64h4M594.95 50.91h4" stroke="#f7dcae" stroke-width="1" fill="none"/><path d="M394.65 186.82V194.09M392.65 186.82h4M392.65 194.09h4" stroke="#ffc4c4" stroke-width="1" fill="none"/><path d="M409.10 184.64V191.91M407.10 184.64h4M407.10 191.91h4" stroke="#ffc4c4" stroke-width="1" fill="none"/><path d="M423.55 177.73V185.00M421.55 177.73h4M421.55 185.00h4" stroke="#ffc4c4" stroke-width="1" fill="none"/><path d="M438.00 161.92V169.19M436.00 161.92h4M436.00 169.19h4" stroke="#ffc4c4" stroke-width="1" fill="none"/><path d="M452.45 140.12V147.39M450.45 140.12h4M450.45 147.39h4" stroke="#ffc4c4" stroke-width="1" fill="none"/><path d="M466.90 116.50V123.77M464.90 116.50h4M464.90 123.77h4" stroke="#ffc4c4" stroke-width="1" fill="none"/><path d="M481.35 102.33V109.59M479.35 102.33h4M479.35 109.59h4" stroke="#ffc4c4" stroke-width="1" fill="none"/><path d="M495.80 87.61V94.88M493.80 87.61h4M493.80 94.88h4" stroke="#ffc4c4" stroke-width="1" fill="none"/><path d="M510.25 76.89V84.16M508.25 76.89h4M508.25 84.16h4" stroke="#ffc4c4" stroke-width="1" fill="none"/><path d="M524.70 67.08V74.35M522.70 67.08h4M522.70 74.35h4" stroke="#ffc4c4" stroke-width="1" fill="none"/><path d="M539.15 54.72V61.99M537.15 54.72h4M537.15 61.99h4" stroke="#ffc4c4" stroke-width="1" fill="none"/><path d="M553.60 42.91V50.18M551.60 42.91h4M551.60 50.18h4" stroke="#ffc4c4" stroke-width="1" fill="none"/><path d="M568.05 46.91V54.18M566.05 46.91h4M566.05 54.18h4" stroke="#ffc4c4" stroke-width="1" fill="none"/><path d="M582.50 56.54V63.81M580.50 56.54h4M580.50 63.81h4" stroke="#ffc4c4" stroke-width="1" fill="none"/><path d="M409.10 173.92V181.18M407.10 173.92h4M407.10 181.18h4" stroke="#ffc4c4" stroke-width="1" fill="none"/><path d="M423.55 158.65V165.92M421.55 158.65h4M421.55 165.92h4" stroke="#ffc4c4" stroke-width="1" fill="none"/><path d="M438.00 144.84V152.11M436.00 144.84h4M436.00 152.11h4" stroke="#ffc4c4" stroke-width="1" fill="none"/><path d="M452.45 124.31V131.58M450.45 124.31h4M450.45 131.58h4" stroke="#ffc4c4" stroke-width="1" fill="none"/><path d="M466.90 105.96V113.23M464.90 105.96h4M464.90 113.23h4" stroke="#ffc4c4" stroke-width="1" fill="none"/><path d="M481.35 94.15V101.42M479.35 94.15h4M479.35 101.42h4" stroke="#ffc4c4" stroke-width="1" fill="none"/><path d="M495.80 82.52V89.79M493.80 82.52h4M493.80 89.79h4" stroke="#ffc4c4" stroke-width="1" fill="none"/><path d="M510.25 77.62V84.88M508.25 77.62h4M508.25 84.88h4" stroke="#ffc4c4" stroke-width="1" fill="none"/><path d="M524.70 59.99V96.33M522.70 59.99h4M522.70 96.33h4" stroke="#ffc4c4" stroke-width="1" fill="none"/><path d="M539.15 86.70V93.97M537.15 86.70h4M537.15 93.97h4" stroke="#ffc4c4" stroke-width="1" fill="none"/><path d="M553.60 69.08V93.06M551.60 69.08h4M551.60 93.06h4" stroke="#ffc4c4" stroke-width="1" fill="none"/><path d="M568.05 46.36V88.15M566.05 46.36h4M566.05 88.15h4" stroke="#ffc4c4" stroke-width="1" fill="none"/><path d="M582.50 46.00V82.34M580.50 46.00h4M580.50 82.34h4" stroke="#ffc4c4" stroke-width="1" fill="none"/><path d="M596.95 39.10V71.80M594.95 39.10h4M594.95 71.80h4" stroke="#ffc4c4" stroke-width="1" fill="none"/><path d="M394.65 193.54L409.10 190.09M409.10 190.09L423.55 186.82M423.55 186.82L438.00 174.10M438.00 174.10L452.45 156.84M452.45 156.84L466.90 135.58M466.90 135.58L481.35 122.31M481.35 122.31L495.80 109.05M495.80 109.05L510.25 94.15M510.25 94.15L524.70 79.07M524.70 79.07L539.15 69.26M539.15 69.26L553.60 55.63M553.60 55.63L568.05 48.54M568.05 48.54L582.50 60.54" stroke="#4d423e" stroke-width="1.1" fill="none" stroke-dasharray="6 2.8"/><path d="M409.10 177.55 L423.55 163.01 L438.00 145.94 L452.45 127.76 L466.90 109.23 L481.35 89.61 L495.80 72.16 L510.25 61.08 L524.70 62.72 L539.15 69.26 L553.60 72.89 L568.05 54.90 L582.50 54.90 L596.95 46.00" stroke="#4d423e" stroke-width="1.1" fill="none"/><path d="M394.65 192.27L409.10 189.54M409.10 189.54L423.55 185.00M423.55 185.00L438.00 170.46M438.00 170.46L452.45 150.66M452.45 150.66L466.90 131.22M466.90 131.22L481.35 116.68M481.35 116.68L495.80 113.41M495.80 113.41L510.25 103.96M510.25 103.96L524.70 88.15M524.70 88.15L539.15 69.62M539.15 69.62L553.60 49.27M553.60 49.27L568.05 45.27M568.05 45.27L582.50 54.36" stroke="#801515" stroke-width="1.1" fill="none" stroke-dasharray="6 2.8"/><path d="M409.10 176.82 L423.55 161.38 L438.00 139.76 L452.45 123.04 L466.90 106.32 L481.35 87.61 L495.80 79.07 L510.25 70.53 L524.70 66.35 L539.15 68.35 L553.60 64.90 L568.05 68.53 L582.50 67.99 L596.95 61.44" stroke="#801515" stroke-width="1.1" fill="none"/><path d="M394.65 189.18L409.10 188.63M409.10 188.63L423.55 182.27M423.55 182.27L438.00 169.56M438.00 169.56L452.45 147.75M452.45 147.75L466.90 133.22M466.90 133.22L481.35 118.68M481.35 118.68L495.80 102.15M495.80 102.15L510.25 93.42M510.25 93.42L524.70 84.16M524.70 84.16L539.15 73.98M539.15 73.98L553.60 61.44M553.60 61.44L568.05 55.09M568.05 55.09L582.50 58.72" stroke="#ef9f1e" stroke-width="1.1" fill="none" stroke-dasharray="6 2.8"/><path d="M409.10 175.01 L423.55 161.92 L438.00 152.29 L452.45 133.22 L466.90 119.23 L481.35 105.23 L495.80 95.60 L510.25 83.43 L524.70 82.89 L539.15 77.25 L553.60 69.62 L568.05 59.08 L582.50 58.72 L596.95 47.27" stroke="#ef9f1e" stroke-width="1.1" fill="none"/><path d="M394.65 190.45L409.10 188.27M409.10 188.27L423.55 181.37M423.55 181.37L438.00 165.56M438.00 165.56L452.45 143.75M452.45 143.75L466.90 120.13M466.90 120.13L481.35 105.96M481.35 105.96L495.80 91.24M495.80 91.24L510.25 80.52M510.25 80.52L524.70 70.71M524.70 70.71L539.15 58.36M539.15 58.36L553.60 46.55M553.60 46.55L568.05 50.54M568.05 50.54L582.50 60.17" stroke="#ff2a2a" stroke-width="1.1" fill="none" stroke-dasharray="6 2.8"/><path d="M409.10 177.55 L423.55 162.29 L438.00 148.48 L452.45 127.95 L466.90 109.59 L481.35 97.78 L495.80 86.16 L510.25 81.25 L524.70 78.16 L539.15 90.33 L553.60 81.07 L568.05 67.26 L582.50 64.17 L596.95 55.45" stroke="#ff2a2a" stroke-width="1.1" fill="none"/><circle cx="394.65" cy="193.54" r="3.0" fill="#3b302c"/><circle cx="409.10" cy="190.09" r="3.0" fill="#3b302c"/><circle cx="423.55" cy="186.82" r="3.0" fill="#3b302c"/><circle cx="438.00" cy="174.10" r="3.0" fill="#3b302c"/><circle cx="452.45" cy="156.84" r="3.0" fill="#3b302c"/><circle cx="466.90" cy="135.58" r="3.0" fill="#3b302c"/><circle cx="481.35" cy="122.31" r="3.0" fill="#3b302c"/><circle cx="495.80" cy="109.05" r="3.0" fill="#3b302c"/><circle cx="510.25" cy="94.15" r="3.0" fill="#3b302c"/><circle cx="524.70" cy="79.07" r="3.0" fill="#3b302c"/><circle cx="539.15" cy="69.26" r="3.0" fill="#3b302c"/><circle cx="553.60" cy="55.63" r="3.0" fill="#3b302c"/><circle cx="568.05" cy="48.54" r="3.0" fill="#3b302c"/><circle cx="582.50" cy="60.54" r="3.0" fill="#3b302c"/><circle cx="409.10" cy="177.55" r="3.0" fill="#3b302c"/><circle cx="423.55" cy="163.01" r="3.0" fill="#3b302c"/><circle cx="438.00" cy="145.94" r="3.0" fill="#3b302c"/><circle cx="452.45" cy="127.76" r="3.0" fill="#3b302c"/><circle cx="466.90" cy="109.23" r="3.0" fill="#3b302c"/><circle cx="481.35" cy="89.61" r="3.0" fill="#3b302c"/><circle cx="495.80" cy="72.16" r="3.0" fill="#3b302c"/><circle cx="510.25" cy="61.08" r="3.0" fill="#3b302c"/><circle cx="524.70" cy="62.72" r="3.0" fill="#3b302c"/><circle cx="539.15" cy="69.26" r="3.0" fill="#3b302c"/><circle cx="553.60" cy="72.89" r="3.0" fill="#3b302c"/><circle cx="568.05" cy="54.90" r="3.0" fill="#3b302c"/><circle cx="582.50" cy="54.90" r="3.0" fill="#3b302c"/><circle cx="596.95" cy="46.00" r="3.0" fill="#3b302c"/><path d="M394.65 188.67L398.25 192.27L394.65 195.87L391.05 192.27Z" fill="#6e0e0e"/><path d="M409.10 185.94L412.70 189.54L409.10 193.14L405.50 189.54Z" fill="#6e0e0e"/><path d="M423.55 181.40L427.15 185.00L423.55 188.60L419.95 185.00Z" fill="#6e0e0e"/><path d="M438.00 166.86L441.60 170.46L438.00 174.06L434.40 170.46Z" fill="#6e0e0e"/><path d="M452.45 147.06L456.05 150.66L452.45 154.26L448.85 150.66Z" fill="#6e0e0e"/><path d="M466.90 127.62L470.50 131.22L466.90 134.82L463.30 131.22Z" fill="#6e0e0e"/><path d="M481.35 113.08L484.95 116.68L481.35 120.28L477.75 116.68Z" fill="#6e0e0e"/><path d="M495.80 109.81L499.40 113.41L495.80 117.01L492.20 113.41Z" fill="#6e0e0e"/><path d="M510.25 100.36L513.85 103.96L510.25 107.56L506.65 103.96Z" fill="#6e0e0e"/><path d="M524.70 84.55L528.30 88.15L524.70 91.75L521.10 88.15Z" fill="#6e0e0e"/><path d="M539.15 66.02L542.75 69.62L539.15 73.22L535.55 69.62Z" fill="#6e0e0e"/><path d="M553.60 45.67L557.20 49.27L553.60 52.87L550.00 49.27Z" fill="#6e0e0e"/><path d="M568.05 41.67L571.65 45.27L568.05 48.87L564.45 45.27Z" fill="#6e0e0e"/><path d="M582.50 50.76L586.10 54.36L582.50 57.96L578.90 54.36Z" fill="#6e0e0e"/><path d="M409.10 173.22L412.70 176.82L409.10 180.42L405.50 176.82Z" fill="#6e0e0e"/><path d="M423.55 157.78L427.15 161.38L423.55 164.98L419.95 161.38Z" fill="#6e0e0e"/><path d="M438.00 136.16L441.60 139.76L438.00 143.36L434.40 139.76Z" fill="#6e0e0e"/><path d="M452.45 119.44L456.05 123.04L452.45 126.64L448.85 123.04Z" fill="#6e0e0e"/><path d="M466.90 102.72L470.50 106.32L466.90 109.92L463.30 106.32Z" fill="#6e0e0e"/><path d="M481.35 84.01L484.95 87.61L481.35 91.21L477.75 87.61Z" fill="#6e0e0e"/><path d="M495.80 75.47L499.40 79.07L495.80 82.67L492.20 79.07Z" fill="#6e0e0e"/><path d="M510.25 66.93L513.85 70.53L510.25 74.13L506.65 70.53Z" fill="#6e0e0e"/><path d="M524.70 62.75L528.30 66.35L524.70 69.95L521.10 66.35Z" fill="#6e0e0e"/><path d="M539.15 64.75L542.75 68.35L539.15 71.95L535.55 68.35Z" fill="#6e0e0e"/><path d="M553.60 61.30L557.20 64.90L553.60 68.50L550.00 64.90Z" fill="#6e0e0e"/><path d="M568.05 64.93L571.65 68.53L568.05 72.13L564.45 68.53Z" fill="#6e0e0e"/><path d="M582.50 64.39L586.10 67.99L582.50 71.59L578.90 67.99Z" fill="#6e0e0e"/><path d="M596.95 57.84L600.55 61.44L596.95 65.04L593.35 61.44Z" fill="#6e0e0e"/><path d="M394.65 192.98L397.95 187.28L391.35 187.28Z" fill="#e89a17"/><path d="M409.10 192.43L412.40 186.73L405.80 186.73Z" fill="#e89a17"/><path d="M423.55 186.07L426.85 180.37L420.25 180.37Z" fill="#e89a17"/><path d="M438.00 173.36L441.30 167.66L434.70 167.66Z" fill="#e89a17"/><path d="M452.45 151.55L455.75 145.85L449.15 145.85Z" fill="#e89a17"/><path d="M466.90 137.02L470.20 131.32L463.60 131.32Z" fill="#e89a17"/><path d="M481.35 122.48L484.65 116.78L478.05 116.78Z" fill="#e89a17"/><path d="M495.80 105.95L499.10 100.25L492.50 100.25Z" fill="#e89a17"/><path d="M510.25 97.22L513.55 91.52L506.95 91.52Z" fill="#e89a17"/><path d="M524.70 87.96L528.00 82.26L521.40 82.26Z" fill="#e89a17"/><path d="M539.15 77.78L542.45 72.08L535.85 72.08Z" fill="#e89a17"/><path d="M553.60 65.24L556.90 59.54L550.30 59.54Z" fill="#e89a17"/><path d="M568.05 58.89L571.35 53.19L564.75 53.19Z" fill="#e89a17"/><path d="M582.50 62.52L585.80 56.82L579.20 56.82Z" fill="#e89a17"/><path d="M409.10 178.81L412.40 173.11L405.80 173.11Z" fill="#e89a17"/><path d="M423.55 165.72L426.85 160.02L420.25 160.02Z" fill="#e89a17"/><path d="M438.00 156.09L441.30 150.39L434.70 150.39Z" fill="#e89a17"/><path d="M452.45 137.02L455.75 131.32L449.15 131.32Z" fill="#e89a17"/><path d="M466.90 123.03L470.20 117.33L463.60 117.33Z" fill="#e89a17"/><path d="M481.35 109.03L484.65 103.33L478.05 103.33Z" fill="#e89a17"/><path d="M495.80 99.40L499.10 93.70L492.50 93.70Z" fill="#e89a17"/><path d="M510.25 87.23L513.55 81.53L506.95 81.53Z" fill="#e89a17"/><path d="M524.70 86.69L528.00 80.99L521.40 80.99Z" fill="#e89a17"/><path d="M539.15 81.05L542.45 75.35L535.85 75.35Z" fill="#e89a17"/><path d="M553.60 73.42L556.90 67.72L550.30 67.72Z" fill="#e89a17"/><path d="M568.05 62.88L571.35 57.18L564.75 57.18Z" fill="#e89a17"/><path d="M582.50 62.52L585.80 56.82L579.20 56.82Z" fill="#e89a17"/><path d="M596.95 51.07L600.25 45.37L593.65 45.37Z" fill="#e89a17"/><rect x="391.75" y="187.55" width="5.8" height="5.8" fill="#ff1414"/><rect x="406.20" y="185.37" width="5.8" height="5.8" fill="#ff1414"/><rect x="420.65" y="178.47" width="5.8" height="5.8" fill="#ff1414"/><rect x="435.10" y="162.66" width="5.8" height="5.8" fill="#ff1414"/><rect x="449.55" y="140.85" width="5.8" height="5.8" fill="#ff1414"/><rect x="464.00" y="117.23" width="5.8" height="5.8" fill="#ff1414"/><rect x="478.45" y="103.06" width="5.8" height="5.8" fill="#ff1414"/><rect x="492.90" y="88.34" width="5.8" height="5.8" fill="#ff1414"/><rect x="507.35" y="77.62" width="5.8" height="5.8" fill="#ff1414"/><rect x="521.80" y="67.81" width="5.8" height="5.8" fill="#ff1414"/><rect x="536.25" y="55.46" width="5.8" height="5.8" fill="#ff1414"/><rect x="550.70" y="43.65" width="5.8" height="5.8" fill="#ff1414"/><rect x="565.15" y="47.64" width="5.8" height="5.8" fill="#ff1414"/><rect x="579.60" y="57.27" width="5.8" height="5.8" fill="#ff1414"/><rect x="406.20" y="174.65" width="5.8" height="5.8" fill="#ff1414"/><rect x="420.65" y="159.39" width="5.8" height="5.8" fill="#ff1414"/><rect x="435.10" y="145.58" width="5.8" height="5.8" fill="#ff1414"/><rect x="449.55" y="125.05" width="5.8" height="5.8" fill="#ff1414"/><rect x="464.00" y="106.69" width="5.8" height="5.8" fill="#ff1414"/><rect x="478.45" y="94.88" width="5.8" height="5.8" fill="#ff1414"/><rect x="492.90" y="83.26" width="5.8" height="5.8" fill="#ff1414"/><rect x="507.35" y="78.35" width="5.8" height="5.8" fill="#ff1414"/><rect x="521.80" y="75.26" width="5.8" height="5.8" fill="#ff1414"/><rect x="536.25" y="87.43" width="5.8" height="5.8" fill="#ff1414"/><rect x="550.70" y="78.17" width="5.8" height="5.8" fill="#ff1414"/><rect x="565.15" y="64.36" width="5.8" height="5.8" fill="#ff1414"/><rect x="579.60" y="61.27" width="5.8" height="5.8" fill="#ff1414"/><rect x="594.05" y="52.55" width="5.8" height="5.8" fill="#ff1414"/></g><rect x="86.9" y="18.4" width="260.0" height="209.79999999999998" fill="none" stroke="#000" stroke-width="1.3"/><path d="M101.36 228.2v-4.4M101.36 18.4v4.4M115.79 228.2v-2.4M115.79 18.4v2.4M130.22 228.2v-2.4M130.22 18.4v2.4M144.65 228.2v-2.4M144.65 18.4v2.4M159.08 228.2v-4.4M159.08 18.4v4.4M173.51 228.2v-2.4M173.51 18.4v2.4M187.94 228.2v-2.4M187.94 18.4v2.4M202.37 228.2v-2.4M202.37 18.4v2.4M216.80 228.2v-4.4M216.80 18.4v4.4M231.23 228.2v-2.4M231.23 18.4v2.4M245.66 228.2v-2.4M245.66 18.4v2.4M260.09 228.2v-2.4M260.09 18.4v2.4M274.52 228.2v-4.4M274.52 18.4v4.4M288.95 228.2v-2.4M288.95 18.4v2.4M303.38 228.2v-2.4M303.38 18.4v2.4M317.81 228.2v-2.4M317.81 18.4v2.4M332.24 228.2v-4.4M332.24 18.4v4.4M86.9 219.08h2.4M346.9 219.08h-2.4M86.9 209.96h2.4M346.9 209.96h-2.4M86.9 200.84h2.4M346.9 200.84h-2.4M86.9 191.72h4.4M346.9 191.72h-4.4M86.9 182.60h2.4M346.9 182.60h-2.4M86.9 173.48h2.4M346.9 173.48h-2.4M86.9 164.36h2.4M346.9 164.36h-2.4M86.9 155.24h4.4M346.9 155.24h-4.4M86.9 146.12h2.4M346.9 146.12h-2.4M86.9 137.00h2.4M346.9 137.00h-2.4M86.9 127.88h2.4M346.9 127.88h-2.4M86.9 118.76h4.4M346.9 118.76h-4.4M86.9 109.64h2.4M346.9 109.64h-2.4M86.9 100.52h2.4M346.9 100.52h-2.4M86.9 91.40h2.4M346.9 91.40h-2.4M86.9 82.28h4.4M346.9 82.28h-4.4M86.9 73.16h2.4M346.9 73.16h-2.4M86.9 64.04h2.4M346.9 64.04h-2.4M86.9 54.92h2.4M346.9 54.92h-2.4M86.9 45.80h4.4M346.9 45.80h-4.4M86.9 36.68h2.4M346.9 36.68h-2.4M86.9 27.56h2.4M346.9 27.56h-2.4" stroke="#000" stroke-width="1.1" fill="none"/><text x="101.36" y="248.1" font-size="19" text-anchor="middle">-0.4</text><text x="159.08" y="248.1" font-size="19" text-anchor="middle">-0.2</text><text x="216.80" y="248.1" font-size="19" text-anchor="middle">0.0</text><text x="274.52" y="248.1" font-size="19" text-anchor="middle">0.2</text><text x="332.24" y="248.1" font-size="19" text-anchor="middle">0.4</text><text x="98.7" y="42.2" font-size="17.7">A</text><rect x="365.2" y="18.4" width="260.59999999999997" height="209.79999999999998" fill="none" stroke="#000" stroke-width="1.3"/><path d="M365.75 228.2v-2.4M365.75 18.4v2.4M380.20 228.2v-4.4M380.20 18.4v4.4M394.65 228.2v-2.4M394.65 18.4v2.4M409.10 228.2v-2.4M409.10 18.4v2.4M423.55 228.2v-2.4M423.55 18.4v2.4M438.00 228.2v-4.4M438.00 18.4v4.4M452.45 228.2v-2.4M452.45 18.4v2.4M466.90 228.2v-2.4M466.90 18.4v2.4M481.35 228.2v-2.4M481.35 18.4v2.4M495.80 228.2v-4.4M495.80 18.4v4.4M510.25 228.2v-2.4M510.25 18.4v2.4M524.70 228.2v-2.4M524.70 18.4v2.4M539.15 228.2v-2.4M539.15 18.4v2.4M553.60 228.2v-4.4M553.60 18.4v4.4M568.05 228.2v-2.4M568.05 18.4v2.4M582.50 228.2v-2.4M582.50 18.4v2.4M596.95 228.2v-2.4M596.95 18.4v2.4M611.40 228.2v-4.4M611.40 18.4v4.4M365.2 219.08h2.4M625.8 219.08h-2.4M365.2 209.96h2.4M625.8 209.96h-2.4M365.2 200.84h2.4M625.8 200.84h-2.4M365.2 191.72h4.4M625.8 191.72h-4.4M365.2 182.60h2.4M625.8 182.60h-2.4M365.2 173.48h2.4M625.8 173.48h-2.4M365.2 164.36h2.4M625.8 164.36h-2.4M365.2 155.24h4.4M625.8 155.24h-4.4M365.2 146.12h2.4M625.8 146.12h-2.4M365.2 137.00h2.4M625.8 137.00h-2.4M365.2 127.88h2.4M625.8 127.88h-2.4M365.2 118.76h4.4M625.8 118.76h-4.4M365.2 109.64h2.4M625.8 109.64h-2.4M365.2 100.52h2.4M625.8 100.52h-2.4M365.2 91.40h2.4M625.8 91.40h-2.4M365.2 82.28h4.4M625.8 82.28h-4.4M365.2 73.16h2.4M625.8 73.16h-2.4M365.2 64.04h2.4M625.8 64.04h-2.4M365.2 54.92h2.4M625.8 54.92h-2.4M365.2 45.80h4.4M625.8 45.80h-4.4M365.2 36.68h2.4M625.8 36.68h-2.4M365.2 27.56h2.4M625.8 27.56h-2.4" stroke="#000" stroke-width="1.1" fill="none"/><text x="380.20" y="248.1" font-size="19" text-anchor="middle">-0.4</text><text x="438.00" y="248.1" font-size="19" text-anchor="middle">-0.2</text><text x="495.80" y="248.1" font-size="19" text-anchor="middle">0.0</text><text x="553.60" y="248.1" font-size="19" text-anchor="middle">0.2</text><text x="611.40" y="248.1" font-size="19" text-anchor="middle">0.4</text><text x="379.6" y="42.2" font-size="17.7">B</text><text x="82.9" y="234.20" font-size="19" text-anchor="end">0.0</text><text x="82.9" y="197.72" font-size="19" text-anchor="end">0.2</text><text x="82.9" y="161.24" font-size="19" text-anchor="end">0.4</text><text x="82.9" y="124.76" font-size="19" text-anchor="end">0.6</text><text x="82.9" y="88.28" font-size="19" text-anchor="end">0.8</text><text x="82.9" y="51.80" font-size="19" text-anchor="end">1.0</text><text transform="translate(13.9 123.6) rotate(-90)" font-size="19.8" text-anchor="middle">ν(Cu-Cl) Normalized,</text><text transform="translate(39.4 123.4) rotate(-90)" font-size="19.8" text-anchor="middle">Baseline Corrected Intensity</text><text x="344.3" y="277.6" font-size="19.8" text-anchor="middle">Potential (V vs NHE)</text><path d="M641.2 64.80H665.8" stroke="#4d423e" stroke-width="1.1" opacity="0.75"/><circle cx="653.30" cy="64.80" r="2.6" fill="#3b302c"/><text x="668.5" y="68.70" font-size="11">No inhibitor</text><path d="M641.2 78.22H665.8" stroke="#6e9ac6" stroke-width="1.1" opacity="0.75"/><path d="M649.50 78.22L655.20 74.92L655.20 81.52Z" fill="#5c87b4"/><text x="668.5" y="82.12" font-size="11">EDA</text><path d="M641.2 91.64H665.8" stroke="#1f1ff0" stroke-width="1.1" opacity="0.75"/><path d="M657.10 91.64L651.40 88.34L651.40 94.94Z" fill="#1414e6"/><text x="668.5" y="95.54" font-size="11">TETA</text><path d="M641.2 105.06H665.8" stroke="#2a4577" stroke-width="1.1" opacity="0.75"/><path d="M653.30 101.26L656.60 106.96L650.00 106.96Z" fill="#1b3463"/><text x="668.5" y="108.96" font-size="11">PEI</text><path d="M641.2 118.48H665.8" stroke="#ef9f1e" stroke-width="1.1" opacity="0.75"/><path d="M653.30 122.28L656.60 116.58L650.00 116.58Z" fill="#e89a17"/><text x="668.5" y="122.38" font-size="11">EG</text><path d="M641.2 131.90H665.8" stroke="#ff2a2a" stroke-width="1.1" opacity="0.75"/><rect x="651.00" y="129.60" width="4.6" height="4.6" fill="#ff1414"/><text x="668.5" y="135.80" font-size="11">TEG</text><path d="M641.2 145.32H665.8" stroke="#801515" stroke-width="1.1" opacity="0.75"/><path d="M653.30 141.72L656.90 145.32L653.30 148.92L649.70 145.32Z" fill="#6e0e0e"/><text x="668.5" y="149.22" font-size="11">PEG</text><text x="641.3" y="176.2" font-size="11">Solid: Cathodic</text><text x="641.3" y="189.5" font-size="11">Dashed: Anodic</text></svg></body></html>
